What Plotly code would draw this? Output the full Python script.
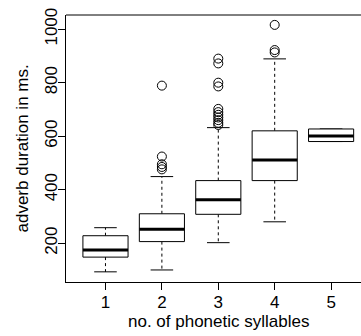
import plotly.graph_objects as go

# ---- data ----
groups = [1, 2, 3, 4, 5]
tick_labels = ["1", "2", "3", "4", "5"]
q1 = [148, 206, 308, 434, 580]
median = [175, 252, 362, 511, 601]
q3 = [228, 310, 434, 620, 627]
lower_whisker = [93, 100, 202, 280, 580]
upper_whisker = [258, 449, 632, 889, 627]
outliers = {
    2: [789, 524, 495, 485, 476],
    3: [890, 872, 800, 786, 702, 690, 680, 670, 660, 650, 642],
    4: [1016, 922, 913],
}
y_ticks = [200, 400, 600, 800, 1000]

FONT = "Liberation Sans, Arial, Helvetica, sans-serif"
BOX_HW = 0.4   # half width of boxes
CAP_HW = 0.2   # half width of whisker caps

box_x, box_y = [], []
med_x, med_y = [], []
wh_x, wh_y = [], []
cap_x, cap_y = [], []
for g, a, m, b, lo, hi in zip(groups, q1, median, q3, lower_whisker, upper_whisker):
    box_x += [g - BOX_HW, g + BOX_HW, g + BOX_HW, g - BOX_HW, g - BOX_HW, None]
    box_y += [a, a, b, b, a, None]
    med_x += [g - BOX_HW, g + BOX_HW, None]
    med_y += [m, m, None]
    wh_x += [g, g, None, g, g, None]
    wh_y += [b, hi, None, a, lo, None]
    cap_x += [g - CAP_HW, g + CAP_HW, None, g - CAP_HW, g + CAP_HW, None]
    cap_y += [hi, hi, None, lo, lo, None]

out_x, out_y = [], []
for g, vals in outliers.items():
    out_x += [g] * len(vals)
    out_y += vals

fig = go.Figure()
fig.add_trace(go.Scatter(x=wh_x, y=wh_y, mode="lines",
                         line=dict(color="black", width=1, dash="3px,3px"), hoverinfo="skip"))
fig.add_trace(go.Scatter(x=cap_x, y=cap_y, mode="lines",
                         line=dict(color="black", width=1), hoverinfo="skip"))
fig.add_trace(go.Scatter(x=box_x, y=box_y, mode="lines", fill="toself", fillcolor="white",
                         line=dict(color="black", width=1), hoverinfo="skip"))
fig.add_trace(go.Scatter(x=med_x, y=med_y, mode="lines",
                         line=dict(color="black", width=3), hoverinfo="skip"))
fig.add_trace(go.Scatter(x=out_x, y=out_y, mode="markers",
                         marker=dict(symbol="circle-open", size=9, color="black",
                                     line=dict(width=1, color="black"))))

fig.update_layout(
    width=361, height=336,
    margin=dict(l=66, r=0, t=15, b=54),
    paper_bgcolor="white", plot_bgcolor="white",
    showlegend=False,
    font=dict(family=FONT, size=17, color="black"),
    xaxis=dict(range=[0.3, 5.53], tickmode="array", tickvals=groups, ticktext=tick_labels,
               ticks="outside", ticklen=7, tickcolor="black", showline=True,
               linecolor="black", linewidth=1, showgrid=False, zeroline=False,
               tickfont=dict(size=17), ticklabelstandoff=-2),
    yaxis=dict(range=[55, 1053], tickmode="array", tickvals=y_ticks,
               ticktext=[str(v) for v in y_ticks], tickangle=-90,
               ticks="outside", ticklen=7, tickcolor="black", showline=True,
               linecolor="black", linewidth=1, showgrid=False, zeroline=False,
               tickfont=dict(size=17), ticklabelstandoff=-6),
    shapes=[dict(type="line", xref="paper", yref="paper", x0=0, x1=1, y0=1, y1=1,
                 line=dict(color="black", width=1))],
    annotations=[
        dict(text="no. of phonetic syllables", xref="x", yref="paper", x=3.0, y=0,
             yanchor="middle", xanchor="center", yshift=-39, showarrow=False,
             font=dict(size=17)),
        dict(text="adverb duration in ms.", xref="paper", yref="paper", x=0, y=0.5,
             xanchor="center", yanchor="middle", xshift=-44, textangle=-90,
             showarrow=False, font=dict(size=17)),
    ],
)

fig.write_html("out.html")
